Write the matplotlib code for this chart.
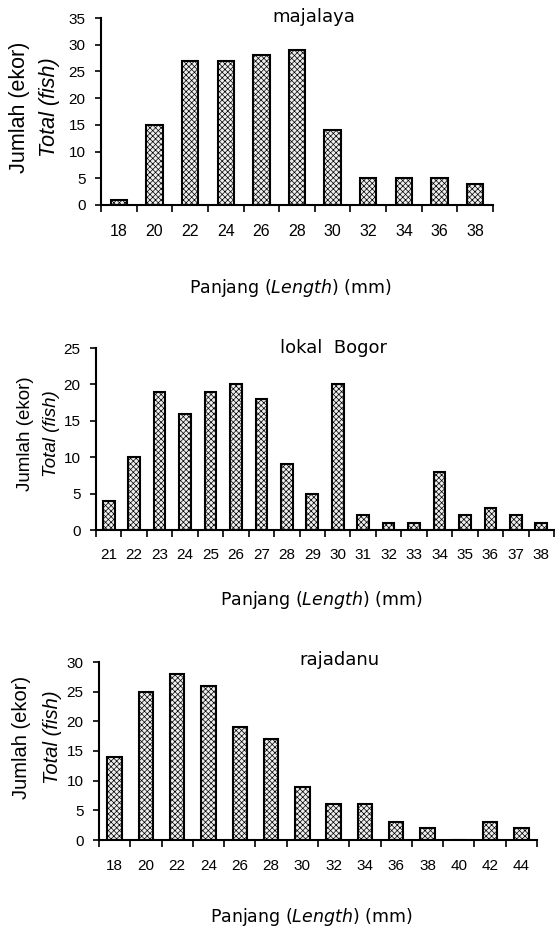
import numpy as np
import matplotlib.pyplot as plt
from matplotlib.ticker import FixedLocator, MultipleLocator

plt.rcParams['hatch.linewidth'] = 0.5
plt.rcParams['hatch.color'] = '#a4a4a4'
plt.rcParams['mathtext.fontset'] = 'dejavusans'

# panjang (mm) dan jumlah ikan per lokasi
maj_len = [18, 20, 22, 24, 26, 28, 30, 32, 34, 36, 38]
maj_cnt = [1, 15, 27, 27, 28, 29, 14, 5, 5, 5, 4]

bog_len = [21, 22, 23, 24, 25, 26, 27, 28, 29, 30, 31, 32, 33, 34, 35, 36, 37, 38]
bog_cnt = [4, 10, 19, 16, 19, 20, 18, 9, 5, 20, 2, 1, 1, 8, 2, 3, 2, 1]

raj_len = [18, 20, 22, 24, 26, 28, 30, 32, 34, 36, 38, 40, 42, 44]
raj_cnt = [14, 25, 28, 26, 19, 17, 9, 6, 6, 3, 2, 0, 3, 2]

W, H = 555, 931
fig = plt.figure(figsize=(W / 100, H / 100), dpi=100)


def px(x0, y0, x1, y1):
    # pixel box -> figure fraction [left, bottom, width, height]
    return [x0 / W, 1 - y1 / H, (x1 - x0) / W, (y1 - y0) / H]


def panel(box, lens, cnts, ymax, title, tpos, lblsize, ylx, yly, xlab, xlpos,
          xtsize=11, xpad=13):
    ax = fig.add_axes(px(*box))
    n = len(lens)
    x = np.arange(n)
    ax.bar(x, cnts, width=0.46, facecolor='#eeeeee', edgecolor='black',
           linewidth=1.5, hatch='xxxxxx', zorder=2)
    ax.set_xlim(-0.5, n - 0.5)
    ax.set_ylim(0, ymax)
    ax.set_xticks(x)
    ax.set_xticklabels([str(v) for v in lens], fontsize=xtsize, family='Liberation Sans')
    ax.xaxis.set_minor_locator(FixedLocator(np.arange(n + 1) - 0.5))
    ax.tick_params(axis='x', which='major', length=0, pad=xpad)
    ax.tick_params(axis='x', which='minor', length=5, width=1.2, direction='out')
    ax.yaxis.set_major_locator(MultipleLocator(5))
    ax.tick_params(axis='y', length=4, width=1.2, direction='out', pad=7,
                   labelsize=11)
    for lab in ax.get_yticklabels():
        lab.set_family('Liberation Sans')
    for s in ['top', 'right']:
        ax.spines[s].set_visible(False)
    for s in ['left', 'bottom']:
        ax.spines[s].set_linewidth(1.5)
    fig.text(tpos[0] / W, 1 - tpos[1] / H, title, ha='center', va='center',
             fontsize=13, family='DejaVu Sans')
    fig.text(ylx[0] / W, 1 - yly / H, 'Jumlah (ekor)', rotation=90,
             ha='center', va='center', fontsize=lblsize, family='Liberation Sans')
    fig.text(ylx[1] / W, 1 - yly / H, 'Total (fish)', rotation=90, style='italic',
             ha='center', va='center', fontsize=lblsize, family='Liberation Sans')
    fig.text(xlpos[0] / W, 1 - xlpos[1] / H, xlab, ha='center', va='center',
             fontsize=12.5, family='DejaVu Sans')
    return ax


panel((101, 18, 493, 205), maj_len, maj_cnt, 35, 'majalaya', (314, 17),
      15.5, (20, 50), 107, r'Panjang $\mathit{(Length)}$ (mm)', (290, 288),
      xtsize=11.5, xpad=14)
panel((96, 348, 554, 530), bog_len, bog_cnt, 25, 'lokal  Bogor', (333, 348),
      13.5, (25, 52), 434, r'Panjang ($\mathit{Length}$) (mm)', (321, 600))
panel((99, 662, 537, 840), raj_len, raj_cnt, 30, 'rajadanu', (339, 660),
      14.5, (22, 52), 737, r'Panjang ($\mathit{Length}$) (mm)', (311, 917),
      xpad=14)

fig.savefig('out.png', dpi=100)
